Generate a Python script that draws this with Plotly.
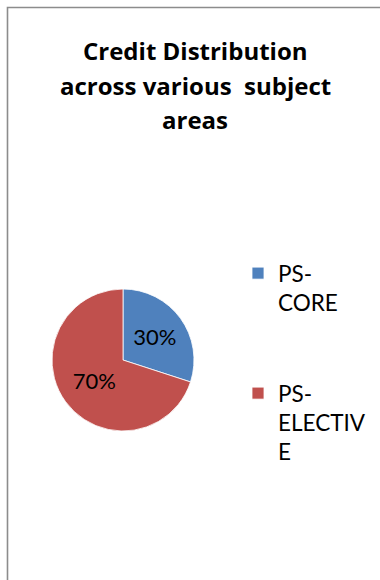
import plotly.graph_objects as go

# Credit share per subject area (percent)
CATEGORIES = ["PS-CORE", "PS-ELECTIVE"]
CREDIT_SHARE = [30, 70]
SLICE_COLORS = ["#4F81BD", "#C0504D"]
# Legend entries wrapped the way the narrow legend column shows them
LEGEND_TEXT = ["PS-<br>CORE<br><br>", "PS-<br>ELECTIV<br>E"]
TITLE_LINES = ["Credit Distribution", "across various&nbsp; subject", "areas"]

W, H = 380, 580
FONT = "Lato"
TITLE_FONT = "Open Sans"


def px_x(x):
    return x / W


def px_y(y):
    return 1 - y / H


fig = go.Figure()

fig.add_trace(go.Pie(
    labels=LEGEND_TEXT,
    values=CREDIT_SHARE,
    customdata=CATEGORIES,
    sort=False,
    direction="clockwise",
    rotation=0,
    marker=dict(colors=SLICE_COLORS, line=dict(color="white", width=0.8)),
    textinfo="percent",
    textposition="inside",
    insidetextorientation="horizontal",
    textfont=dict(family=FONT, size=22, color="black"),
    hovertemplate="%{customdata}: %{percent}<extra></extra>",
    domain=dict(x=[px_x(52), px_x(194)], y=[px_y(431), px_y(289)]),
))

# chart-area frame (left and top edges)
fig.add_shape(
    type="path",
    xref="paper", yref="paper",
    path=f"M {px_x(7.5)} {px_y(590)} L {px_x(7.5)} {px_y(7.5)} L {px_x(390)} {px_y(7.5)}",
    line=dict(color="#8c8c8c", width=1.6),
)

title_centres = [50, 86, 119]
for text, yc in zip(TITLE_LINES, title_centres):
    fig.add_annotation(
        text=f"<b>{text}</b>",
        x=px_x(195), y=px_y(yc),
        xref="paper", yref="paper",
        xanchor="center", yanchor="middle",
        showarrow=False,
        font=dict(family=TITLE_FONT, size=24, color="black"),
    )

fig.update_layout(
    width=W, height=H,
    margin=dict(l=0, r=0, t=0, b=0, pad=0),
    paper_bgcolor="white",
    plot_bgcolor="white",
    showlegend=True,
    legend=dict(
        x=px_x(238), y=px_y(252),
        xanchor="left", yanchor="top",
        valign="top",
        font=dict(family=FONT, size=22.5, color="black"),
        bgcolor="rgba(0,0,0,0)",
        borderwidth=0,
    ),
)

fig.write_html("out.html")
